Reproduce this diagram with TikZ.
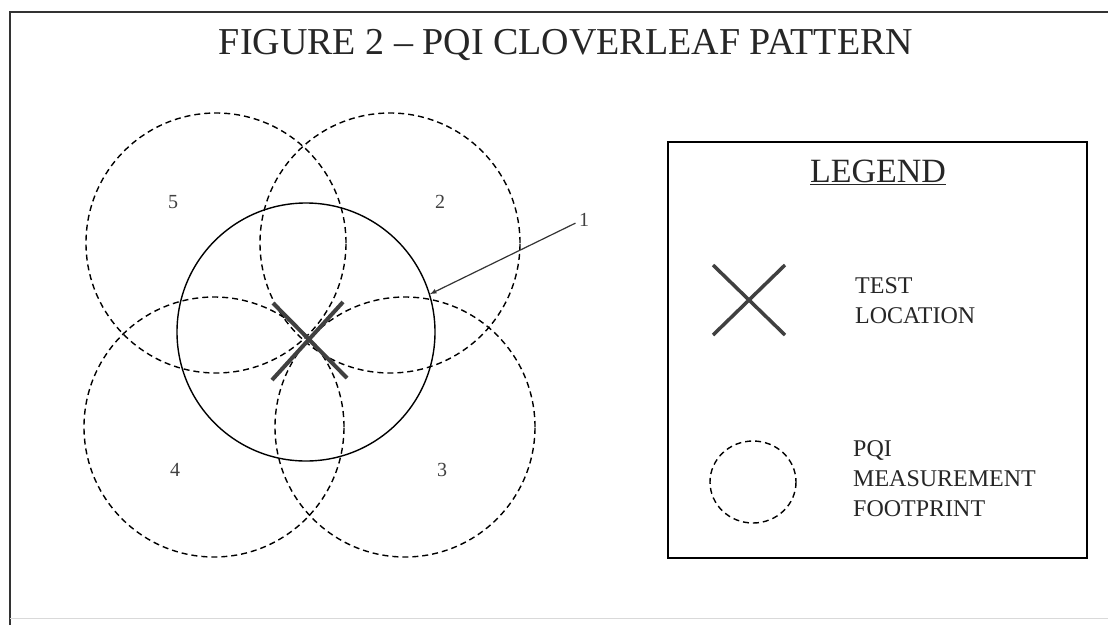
\documentclass[tikz,border=0pt]{standalone}
\usepackage{fontspec}
\setmainfont{Liberation Serif}
\usetikzlibrary{calc}
\begin{document}
\begin{tikzpicture}[x=1pt,y=-1pt]
\tikzstyle{foot}=[draw,circle,line width=1.4pt,dash pattern=on 6pt off 4pt,minimum size=260pt,inner sep=0pt]
\tikzstyle{num}=[font=\fontsize{20}{20}\selectfont,text=black!75]
\tikzstyle{cross}=[draw,line width=4pt,black!75]
\tikzstyle{txt}=[font=\fontsize{24}{30}\selectfont,align=left,anchor=north west,inner sep=0pt,text=black!85]
\useasboundingbox(0,0)rectangle(1108,625);
\path[draw,line width=1.5pt,black!80](10,625)--(10,12)--(1108,12);
\path[draw,black!15](10,618)--(1108,618);
\node[text=black!85](title)at(566,45){\fontsize{38}{38}\selectfont FIGURE 2 -- PQI CLOVERLEAF PATTERN};
% footprints round the test spot
\node[foot](c5)at(216,243){};
\node[foot](c2)at(390,243){};
\node[foot](c4)at(214,427){};
\node[foot](c3)at(405,427){};
\node[draw,circle,line width=1.4pt,minimum size=258pt,inner sep=0pt](test)at(306,332){};
\coordinate(loc)at(308,340);
\path[cross]($(loc)+(-35,-37)$)--($(loc)+(39,38)$);
\path[cross]($(loc)+(-36,40)$)--($(loc)+(35,-38)$);
\node[num]at(173,202){5};
\node[num]at(440,202){2};
\node[num]at(175,470){4};
\node[num]at(442,470){3};
\node[num](one)at(584,220){1};
\path[draw,-latex,line width=1.2pt,black!80](one.200)--(test.17);
% legend
\node[draw,line width=1.5pt,minimum width=419pt,minimum height=416pt,anchor=north west,inner sep=0pt](legend)at(667,141){};
\node[font=\fontsize{34}{34}\selectfont,text=black!85](lg)at(878,172){\underline{LEGEND}};
\coordinate(lx)at(749,300);
\path[draw,line width=3.5pt,black!75]($(lx)+(-36,-35)$)--($(lx)+(36,35)$);
\path[draw,line width=3.5pt,black!75]($(lx)+(-36,35)$)--($(lx)+(36,-35)$);
\node[txt](tl)at(855,277){TEST\\LOCATION};
\path[draw,line width=1.4pt,dash pattern=on 6pt off 4pt](753,482)ellipse(43 and 41);
\node[txt](pm)at(853,440){PQI\\MEASUREMENT\\FOOTPRINT};
\end{tikzpicture}
\end{document}
